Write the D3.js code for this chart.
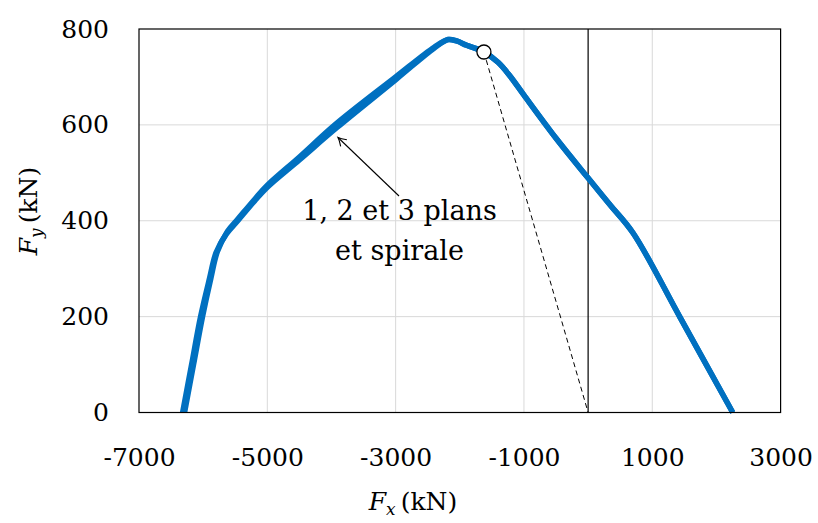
<!DOCTYPE html>
<html><head><meta charset="utf-8">
<script src="https://cdn.jsdelivr.net/npm/d3@7"></script>
<style>
html,body{margin:0;padding:0;background:#fff;}
text{font-family:"DejaVu Serif",serif;fill:#000;}
</style></head>
<body><svg id="c" width="818" height="523"></svg>
<script>
// ---- data ----
const xTicks = [-7000, -5000, -3000, -1000, 1000, 3000];
const yTicks = [0, 200, 400, 600, 800];
// interaction curve, series A
const fxA = [-6320, -6180, -6040, -5900, -5800, -5640, -5460, -5200, -5000, -4500, -3918, -3000, -2400, -2180, -2050, -1893, -1624, -1400, -1218, -1000, -500, 0, 350, 703, 1431, 2254];
const fyA = [0, 100, 200, 280, 333, 372, 400, 441, 470, 527, 594, 694, 760, 778, 775, 766, 752, 730, 702, 662, 572, 489, 432, 374, 199, 0];
// series B (overlapping curve, slightly offset on the left branch)
const fxB = [-6290, -6150, -6010, -5880, -5780, -5620, -5450, -5190, -5000, -4500, -3930, -3000, -2400, -2180, -2050, -1893, -1624, -1400, -1218, -1000, -500, 0, 350, 703, 1431, 2254];
const fyB = [0, 100, 200, 280, 335, 378, 405, 446, 474, 533, 602, 700, 762, 778, 775, 766, 752, 730, 702, 662, 572, 489, 432, 374, 199, 0];
const pointFx = [-1624], pointFy = [752];
const annotLines = ["1, 2 et 3 plans", "et spirale"];

const svg = d3.select("#c");
const L = 139, R = 780.6, T = 29, B = 412.5;
const x = d3.scaleLinear().domain([-7000, 3000]).range([L, R]);
const y = d3.scaleLinear().domain([0, 800]).range([B, T]);
const fmt = d => String(d); // plain hyphen-minus as in the reference

// grid
const g = svg.append("g");
g.selectAll("line.gx").data(xTicks.slice(1, -1)).enter().append("line")
  .attr("x1", d => x(d)).attr("x2", d => x(d)).attr("y1", B).attr("y2", T)
  .attr("stroke", "#d9d9d9").attr("stroke-width", 1);
g.selectAll("line.gy").data(yTicks.slice(1, -1)).enter().append("line")
  .attr("y1", d => y(d)).attr("y2", d => y(d)).attr("x1", L).attr("x2", R)
  .attr("stroke", "#d9d9d9").attr("stroke-width", 1);

// axes (no tick marks)
const xAxis = d3.axisBottom(x).tickValues(xTicks).tickSize(0).tickPadding(0).tickFormat(fmt);
const yAxis = d3.axisLeft(y).tickValues(yTicks).tickSize(0).tickPadding(0).tickFormat(fmt);
const gx = svg.append("g").attr("transform", `translate(0,${B})`).call(xAxis);
gx.select(".domain").remove();
gx.selectAll("text").attr("font-family", "DejaVu Serif").attr("font-size", 25)
  .attr("dy", null).attr("y", 53);
const gy = svg.append("g").attr("transform", `translate(${L},0)`).call(yAxis);
gy.select(".domain").remove();
gy.selectAll("text").attr("font-family", "DejaVu Serif").attr("font-size", 25)
  .attr("x", -30).attr("dy", "0.32em");

// x = 0 line
svg.append("line").attr("x1", x(0)).attr("x2", x(0)).attr("y1", B).attr("y2", T)
  .attr("stroke", "#000").attr("stroke-width", 1.2);

// curves
const seriesA = fxA.map((v, i) => [v, fyA[i]]);
const seriesB = fxB.map((v, i) => [v, fyB[i]]);
const lineGen = d3.line().x(d => x(d[0])).y(d => y(d[1])).curve(d3.curveCatmullRom.alpha(0.5));
[seriesA, seriesB].forEach(s => {
  svg.append("path").datum(s).attr("d", lineGen)
    .attr("fill", "none").attr("stroke", "#0070C0").attr("stroke-width", 5.5)
    .attr("stroke-linejoin", "round");
});

// dashed line from point to origin
svg.append("line").attr("x1", x(pointFx[0])).attr("y1", y(pointFy[0])).attr("x2", x(0)).attr("y2", y(0))
  .attr("stroke", "#000").attr("stroke-width", 1).attr("stroke-dasharray", "5,3.5");
svg.append("circle").attr("cx", x(pointFx[0])).attr("cy", y(pointFy[0])).attr("r", 7)
  .attr("fill", "#fff").attr("stroke", "#000").attr("stroke-width", 1.3);

// frame
svg.append("rect").attr("x", L).attr("y", T).attr("width", R - L).attr("height", B - T)
  .attr("fill", "none").attr("stroke", "#000").attr("stroke-width", 1.2);

// annotation
svg.append("defs").append("marker").attr("id", "arr").attr("viewBox", "-10 -6 12 12")
  .attr("markerWidth", 12).attr("markerHeight", 12).attr("markerUnits", "userSpaceOnUse")
  .attr("refX", 0).attr("refY", 0).attr("orient", "auto")
  .append("path").attr("d", "M-8,-4.5 Q-3,-1 0,0 Q-3,1 -8,4.5").attr("fill", "none").attr("stroke", "#000").attr("stroke-width", 1.1);
svg.append("line").attr("x1", 399).attr("y1", 196).attr("x2", 338).attr("y2", 137.5)
  .attr("stroke", "#000").attr("stroke-width", 1.1).attr("marker-end", "url(#arr)");
svg.selectAll("text.an").data(annotLines).enter().append("text").attr("class", "an")
  .attr("x", 399.5).attr("y", (d, i) => 220 + i * 40).attr("text-anchor", "middle")
  .attr("font-size", 27).text(d => d);

// axis titles
const xt = svg.append("text").attr("x", 413).attr("y", 510).attr("text-anchor", "middle").attr("font-size", 25);
xt.append("tspan").attr("font-style", "italic").text("F");
xt.append("tspan").attr("font-style", "italic").attr("font-size", 17).attr("dy", 5).text("x");
xt.append("tspan").attr("dy", -5).text("\u2009(kN)");
const yt = svg.append("text").attr("transform", "translate(37,211) rotate(-90)").attr("text-anchor", "middle").attr("font-size", 25);
yt.append("tspan").attr("font-style", "italic").text("F");
yt.append("tspan").attr("font-style", "italic").attr("font-size", 17).attr("dy", 5).text("y");
yt.append("tspan").attr("dy", -5).text("\u2009(kN)");
</script></body></html>
